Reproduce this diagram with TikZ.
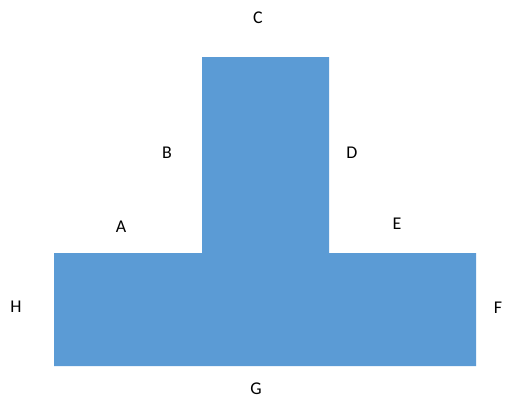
\documentclass[tikz,border=0pt]{standalone}
\usepackage{fontspec}
\setmainfont{Carlito}
\usepackage{xcolor}
\usetikzlibrary{positioning}
\definecolor{tblue}{HTML}{5B9BD5}

\begin{document}
\begin{tikzpicture}[x=0.02cm,y=-0.02cm,
    lbl/.style={font=\fontsize{10.2}{12}\selectfont,inner sep=0pt}]
  \useasboundingbox (0,0) rectangle (506,400);
  % T shape
  \fill[tblue] (54,253) -- (202,253) -- (202,57) -- (329,57) -- (329,253)
       -- (476,253) -- (476,366) -- (54,366) -- cycle;
  % edge labels
  \node[lbl] (lA) at (121,227){A};
  \node[lbl] (lB) at (167,153){B};
  \node[lbl] (lC) at (258,18){C};
  \node[lbl] (lD) at (352,153){D};
  \node[lbl] (lE) at (397,224){E};
  \node[lbl] (lF) at (498,308){F};
  \node[lbl] (lG) at (256,389){G};
  \node[lbl] (lH) at (16,307){H};
\end{tikzpicture}
\end{document}
